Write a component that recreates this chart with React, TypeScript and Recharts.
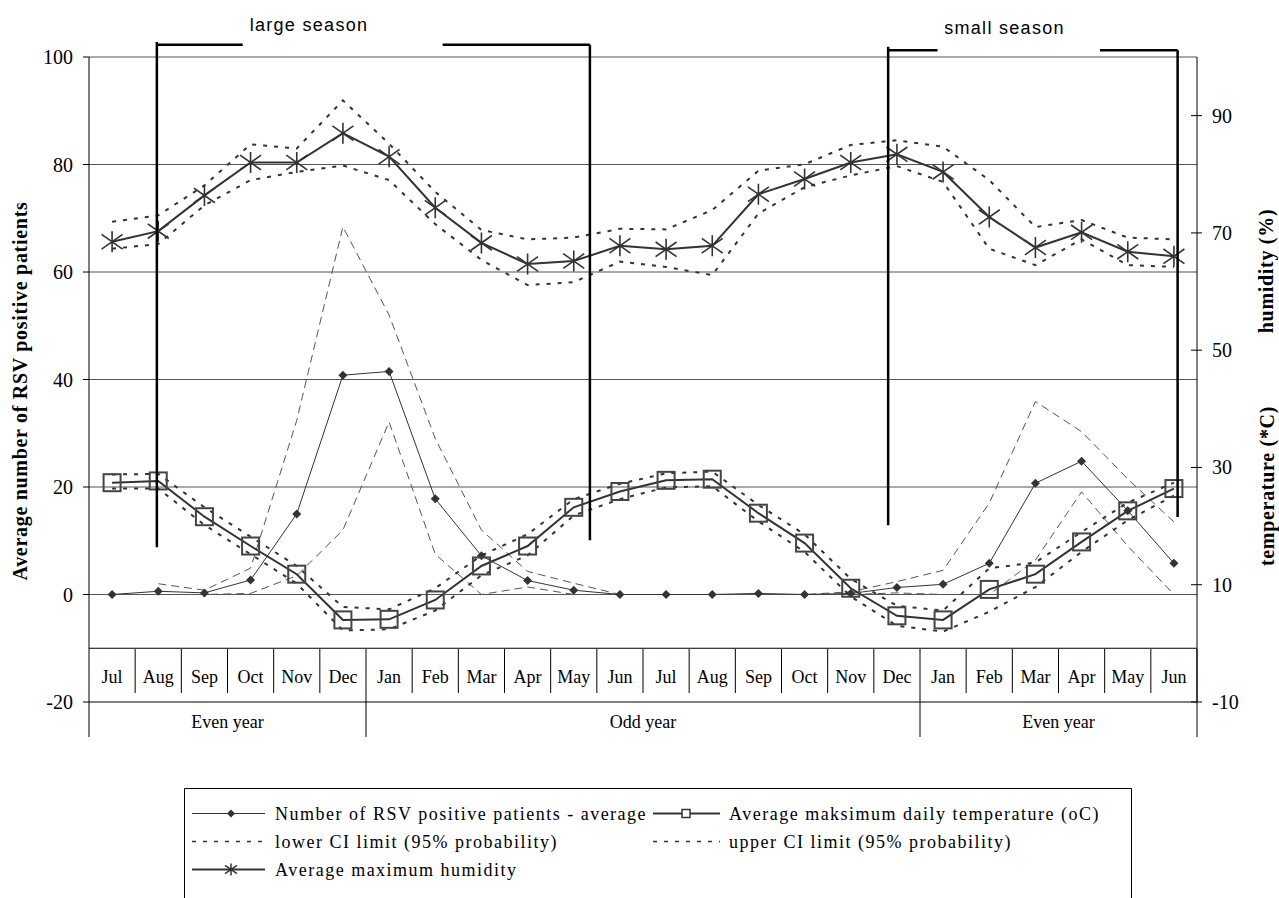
import React from 'react';
import { ComposedChart, Line, XAxis, YAxis, CartesianGrid, ReferenceLine, Legend } from 'recharts';

// ---------------- data ----------------
const months = ['Jul', 'Aug', 'Sep', 'Oct', 'Nov', 'Dec', 'Jan', 'Feb', 'Mar', 'Apr', 'May', 'Jun',
  'Jul', 'Aug', 'Sep', 'Oct', 'Nov', 'Dec', 'Jan', 'Feb', 'Mar', 'Apr', 'May', 'Jun'];
const yearGroups = ['Even year', 'Odd year', 'Even year'];
const yearGroupSpans = [6, 12, 6];

const rsvAverage = [0, 0.6, 0.3, 2.7, 15.0, 40.8, 41.5, 17.8, 7.2, 2.6, 0.8, 0,
  0, 0, 0.2, 0, 0.2, 1.3, 1.9, 5.8, 20.7, 24.8, 15.6, 5.8];
const rsvUpper = [null, 2.0, 0.8, 4.9, 32.4, 68.4, 52.0, 29.0, 12.0, 4.3, 2.1, 0,
  0, 0, 0, 0, 0.5, 2.4, 4.5, 17.0, 35.9, 30.3, 21.5, 13.5];
const rsvLower = [null, 0, 0, 0.2, 3.5, 12.0, 32.1, 7.5, 0, 1.4, 0, 0,
  0, 0, 0, 0, 0, 0.3, 0, 0, 6.4, 19.1, 9.0, 0];

const temperature = [27.4, 27.7, 21.6, 16.6, 11.8, 4.0, 4.1, 7.4, 13.2, 16.6, 23.2, 25.9,
  27.8, 28.0, 22.2, 17.1, 9.4, 4.7, 4.0, 9.2, 11.8, 17.3, 22.6, 26.4];
const temperatureUpper = [28.8, 28.9, 23.2, 18.2, 13.2, 6.2, 5.8, 9.4, 15.0, 18.6, 24.6, 27.2,
  29.0, 29.3, 23.6, 18.6, 11.0, 6.4, 5.6, 12.8, 13.8, 19.0, 24.0, 27.4];
const temperatureLower = [26.4, 26.4, 20.2, 15.2, 10.2, 2.2, 2.4, 5.6, 11.6, 15.0, 21.8, 24.6,
  26.6, 26.8, 20.8, 15.6, 8.0, 3.0, 2.0, 5.4, 9.6, 15.6, 21.0, 25.2];

const humidity = [68.5, 70.3, 76.4, 82.0, 82.0, 87.0, 83.0, 74.3, 68.3, 64.7, 65.2, 67.8,
  67.2, 67.8, 76.6, 79.2, 82.0, 83.4, 80.4, 72.7, 67.5, 70.1, 66.8, 66.0];
const humidityUpper = [71.9, 73.0, 78.1, 85.1, 84.4, 92.6, 85.2, 77.0, 70.5, 68.9, 69.2, 70.7,
  70.6, 73.9, 80.6, 81.7, 85.0, 85.8, 84.7, 79.0, 71.0, 72.2, 69.2, 68.9];
const humidityLower = [67.3, 68.1, 74.7, 79.0, 80.4, 81.5, 79.0, 71.5, 65.4, 61.1, 61.6, 65.1,
  64.2, 62.8, 73.3, 77.8, 79.8, 81.4, 78.7, 67.3, 64.5, 68.9, 64.5, 64.2];

const leftTicks = [-20, 0, 20, 40, 60, 80, 100];
const rightTicks = [-10, 10, 30, 50, 70, 90];

// season brackets, in (month-position, left-axis value) units
const seasonMarks = [
  [{ x: 1.47, y: 102.8 }, { x: 1.47, y: 8.8 }],
  [{ x: 1.47, y: 102.3 }, { x: 3.33, y: 102.3 }],
  [{ x: 7.66, y: 102.3 }, { x: 10.85, y: 102.3 }],
  [{ x: 10.85, y: 102.3 }, { x: 10.85, y: 10.1 }],
  [{ x: 17.31, y: 101.9 }, { x: 17.31, y: 12.9 }],
  [{ x: 17.31, y: 101.25 }, { x: 18.38, y: 101.25 }],
  [{ x: 21.9, y: 101.25 }, { x: 23.58, y: 101.25 }],
  [{ x: 23.58, y: 101.25 }, { x: 23.58, y: 14.4 }],
];

const keys = months.map((m, i) => `${m}-${i}`);
const data = months.map((m, i) => ({
  key: keys[i],
  rsv: rsvAverage[i],
  rsvHi: rsvUpper[i],
  rsvLo: rsvLower[i],
  temp: temperature[i],
  tempHi: temperatureUpper[i],
  tempLo: temperatureLower[i],
  hum: humidity[i],
  humHi: humidityUpper[i],
  humLo: humidityLower[i],
}));

// ---------------- layout ----------------
const W = 1279;
const H = 898;
const LEFT_W = 89;
const RIGHT_W = 82;
const TOP = 57;
const PLOT_BOTTOM = 702;
const XAXIS_H = 40;
const BW = (W - LEFT_W - RIGHT_W) / months.length;
const LEFT_MIN = -20;
const LEFT_MAX = 100;
const SERIF = '"Liberation Serif", "Times New Roman", serif';
const SANS = '"Liberation Sans", Arial, sans-serif';
const INK = '#333333';

const posX = (u: number) => LEFT_W + u * BW;
const posY = (v: number) => TOP + ((LEFT_MAX - v) * (PLOT_BOTTOM - TOP)) / (LEFT_MAX - LEFT_MIN);

const groupStarts: number[] = [];
const groupEnds: number[] = [];
{
  let acc = 0;
  yearGroupSpans.forEach((s) => {
    groupStarts.push(acc);
    acc += s;
    groupEnds.push(acc - 1);
  });
}

const XTick = (props: any) => {
  const { x, y, payload } = props;
  const i = keys.indexOf(payload.value);
  const right = x + BW / 2;
  const left = x - BW / 2;
  const isEnd = groupEnds.includes(i);
  const g = groupStarts.indexOf(i);
  return (
    <g>
      <text x={x} y={y - 25} textAnchor="middle" dominantBaseline="central" fontFamily={SERIF} fontSize={18} fill="#000">
        {months[i]}
      </text>
      <line x1={right} x2={right} y1={y - 53} y2={isEnd ? y + 35 : y - 9} stroke="#000" strokeWidth={1} />
      {i === 0 && <line x1={left} x2={left} y1={y} y2={y + 35} stroke="#000" strokeWidth={1} />}
      {g >= 0 && (
        <text x={left + (yearGroupSpans[g] * BW) / 2} y={y + 20} textAnchor="middle" dominantBaseline="central" fontFamily={SERIF} fontSize={18} fill="#000">
          {yearGroups[g]}
        </text>
      )}
    </g>
  );
};

const RightTick = (props: any) => {
  const { x, y, payload } = props;
  return (
    <g>
      <line x1={x - 6} x2={x + 5} y1={y} y2={y} stroke="#000" strokeWidth={1} />
      <text x={x + 15} y={y} dominantBaseline="central" fontFamily={SERIF} fontSize={20} fill="#000">
        {payload.value}
      </text>
    </g>
  );
};

const LeftTick = (props: any) => {
  const { x, y, payload } = props;
  return (
    <g>
      <line x1={x - 6} x2={x} y1={y} y2={y} stroke="#000" strokeWidth={1} />
      <text x={x - 16} y={y} textAnchor="end" dominantBaseline="central" fontFamily={SERIF} fontSize={20} fill="#000">
        {payload.value}
      </text>
    </g>
  );
};

const Diamond = (p: any) => {
  const { cx, cy, index, value } = p;
  if (value == null || cx == null || cy == null) return <g key={`dm-${index}`} />;
  const r = 4.5;
  return <polygon key={`dm-${index}`} points={`${cx},${cy - r} ${cx + r},${cy} ${cx},${cy + r} ${cx - r},${cy}`} fill={INK} />;
};

const Square = (p: any) => {
  const { cx, cy, index, value } = p;
  if (value == null || cx == null || cy == null) return <g key={`sq-${index}`} />;
  const s = 8.5;
  return <rect key={`sq-${index}`} x={cx - s} y={cy - s} width={2 * s} height={2 * s} fill="none" stroke="#444" strokeWidth={2} />;
};

const starPath = (cx: number, cy: number, r: number) =>
  `M${cx},${cy - r}L${cx},${cy + r}M${cx - r},${cy - r * 0.7}L${cx + r},${cy + r * 0.7}M${cx - r},${cy + r * 0.7}L${cx + r},${cy - r * 0.7}`;

const Star = (p: any) => {
  const { cx, cy, index, value } = p;
  if (value == null || cx == null || cy == null) return <g key={`st-${index}`} />;
  return <path key={`st-${index}`} d={starPath(cx, cy, 10.5)} stroke={INK} strokeWidth={1.6} fill="none" />;
};

const LegendBox = () => {
  const rows = [25.5, 53.5, 81.5];
  const c1 = { a: 8, b: 81, m: 47, t: 91 };
  const c2 = { a: 469, b: 536, m: 502, t: 545 };
  const txt = { fontFamily: SERIF, fontSize: 18, fill: '#000', letterSpacing: 1.5 } as any;
  return (
    <svg width={948} height={112} style={{ display: 'block', overflow: 'visible' }}>
      <path d="M0.5,112 L0.5,0.5 L947.5,0.5 L947.5,112" fill="none" stroke="#000" strokeWidth={1} />
      {/* row 1 */}
      <line x1={c1.a} x2={c1.b} y1={rows[0]} y2={rows[0]} stroke={INK} strokeWidth={1} />
      <polygon points={`${c1.m},${rows[0] - 4} ${c1.m + 4},${rows[0]} ${c1.m},${rows[0] + 4} ${c1.m - 4},${rows[0]}`} fill={INK} />
      <text x={c1.t} y={rows[0]} dominantBaseline="central" {...txt}>Number of RSV positive patients - average</text>
      <line x1={c2.a} x2={c2.b} y1={rows[0]} y2={rows[0]} stroke={INK} strokeWidth={2} />
      <rect x={c2.m - 4} y={rows[0] - 4} width={8} height={8} fill="#fff" stroke={INK} strokeWidth={1.5} />
      <text x={c2.t} y={rows[0]} dominantBaseline="central" {...txt}>Average maksimum daily temperature (oC)</text>
      {/* row 2 */}
      <line x1={c1.a} x2={c1.b} y1={rows[1]} y2={rows[1]} stroke={INK} strokeWidth={1.5} strokeDasharray="4 7" />
      <text x={c1.t} y={rows[1]} dominantBaseline="central" {...txt}>lower CI limit (95% probability)</text>
      <line x1={c2.a} x2={c2.b} y1={rows[1]} y2={rows[1]} stroke={INK} strokeWidth={1.5} strokeDasharray="4 7" />
      <text x={c2.t} y={rows[1]} dominantBaseline="central" {...txt}>upper CI limit (95% probability)</text>
      {/* row 3 */}
      <line x1={c1.a} x2={c1.b} y1={rows[2]} y2={rows[2]} stroke={INK} strokeWidth={2} />
      <path d={starPath(c1.m, rows[2], 6)} stroke={INK} strokeWidth={1.5} fill="none" />
      <text x={c1.t} y={rows[2]} dominantBaseline="central" {...txt}>Average maximum humidity</text>
    </svg>
  );
};

const Overlay = () => (
  <svg width={W} height={H} style={{ position: 'absolute', left: 0, top: 0, pointerEvents: 'none' }}>
    {seasonMarks.map((seg, k) => (
      <line
        key={`sm-${k}`}
        x1={posX(seg[0].x)}
        y1={posY(seg[0].y)}
        x2={posX(seg[1].x)}
        y2={posY(seg[1].y)}
        stroke="#000"
        strokeWidth={2.5}
      />
    ))}
    <text x={20} y={391} transform="rotate(-90, 20, 391)" textAnchor="middle" dominantBaseline="central" fontFamily={SERIF} fontWeight="bold" fontSize={20} letterSpacing={0.7} fill="#000">
      Average number of RSV positive patients
    </text>
    <text x={1266} y={271} transform="rotate(-90, 1266, 271)" textAnchor="middle" dominantBaseline="central" fontFamily={SERIF} fontWeight="bold" fontSize={20} letterSpacing={0.7} fill="#000">
      humidity (%)
    </text>
    <text x={1267} y={486} transform="rotate(-90, 1267, 486)" textAnchor="middle" dominantBaseline="central" fontFamily={SERIF} fontWeight="bold" fontSize={20} letterSpacing={0.7} fill="#000">
      temperature (*C)
    </text>
    <text x={309} y={25} textAnchor="middle" dominantBaseline="central" fontFamily={SANS} fontSize={18} letterSpacing={1.3} fill="#000">
      large season
    </text>
    <text x={1004.5} y={27.5} textAnchor="middle" dominantBaseline="central" fontFamily={SANS} fontSize={18} letterSpacing={1.3} fill="#000">
      small season
    </text>
  </svg>
);

export default function App() {
  return (
    <div style={{ position: 'absolute', left: 0, top: 0, width: W, height: H, background: '#fff' }}>
      <ComposedChart
        width={W}
        height={H}
        data={data}
        margin={{ top: TOP, right: 0, left: 0, bottom: H - PLOT_BOTTOM - XAXIS_H }}
      >
        <CartesianGrid xAxisId="cat" yAxisId="left" vertical={false} stroke="#555" strokeWidth={1} />
        <XAxis
          xAxisId="cat"
          dataKey="key"
          type="category"
          scale="band"
          interval={0}
          height={XAXIS_H}
          tickSize={0}
          tickMargin={0}
          tickLine={false}
          axisLine={{ stroke: '#808080', strokeWidth: 2 }}
          tick={<XTick />}
        />
        <YAxis
          yAxisId="left"
          orientation="left"
          width={LEFT_W}
          domain={[LEFT_MIN, LEFT_MAX]}
          ticks={leftTicks}
          interval={0}
          allowDataOverflow
          tickSize={0}
          tickMargin={0}
          tickLine={false}
          axisLine={{ stroke: '#000', strokeWidth: 1 }}
          tick={<LeftTick />}
        />
        <YAxis
          yAxisId="right"
          orientation="right"
          width={RIGHT_W}
          domain={[-10, 100]}
          ticks={rightTicks}
          interval={0}
          allowDataOverflow
          tickSize={0}
          tickMargin={0}
          tickLine={false}
          axisLine={{ stroke: '#000', strokeWidth: 1 }}
          tick={<RightTick />}
        />
        <ReferenceLine xAxisId="cat" yAxisId="left" y={-10} stroke="#000" strokeWidth={1} />

        <Line xAxisId="cat" yAxisId="left" type="linear" dataKey="rsvHi" stroke="#555" strokeWidth={1} strokeDasharray="8 5" dot={false} activeDot={false} isAnimationActive={false} />
        <Line xAxisId="cat" yAxisId="left" type="linear" dataKey="rsvLo" stroke="#555" strokeWidth={1} strokeDasharray="8 5" dot={false} activeDot={false} isAnimationActive={false} />
        <Line xAxisId="cat" yAxisId="right" type="linear" dataKey="tempHi" stroke={INK} strokeWidth={2} strokeDasharray="4 7" dot={false} activeDot={false} isAnimationActive={false} />
        <Line xAxisId="cat" yAxisId="right" type="linear" dataKey="tempLo" stroke={INK} strokeWidth={2} strokeDasharray="4 7" dot={false} activeDot={false} isAnimationActive={false} />
        <Line xAxisId="cat" yAxisId="right" type="linear" dataKey="humHi" stroke={INK} strokeWidth={2} strokeDasharray="4 7" dot={false} activeDot={false} isAnimationActive={false} />
        <Line xAxisId="cat" yAxisId="right" type="linear" dataKey="humLo" stroke={INK} strokeWidth={2} strokeDasharray="4 7" dot={false} activeDot={false} isAnimationActive={false} />
        <Line xAxisId="cat" yAxisId="left" type="linear" dataKey="rsv" stroke={INK} strokeWidth={1} dot={Diamond} activeDot={false} isAnimationActive={false} />
        <Line xAxisId="cat" yAxisId="right" type="linear" dataKey="temp" stroke={INK} strokeWidth={2} dot={Square} activeDot={false} isAnimationActive={false} />
        <Line xAxisId="cat" yAxisId="right" type="linear" dataKey="hum" stroke={INK} strokeWidth={2} dot={Star} activeDot={false} isAnimationActive={false} />

        <Legend
          layout="vertical"
          align="center"
          verticalAlign="middle"
          content={() => <LegendBox />}
          wrapperStyle={{ position: 'absolute', left: 184, top: 788, width: 948, height: 112 }}
        />
      </ComposedChart>
      <Overlay />
    </div>
  );
}
